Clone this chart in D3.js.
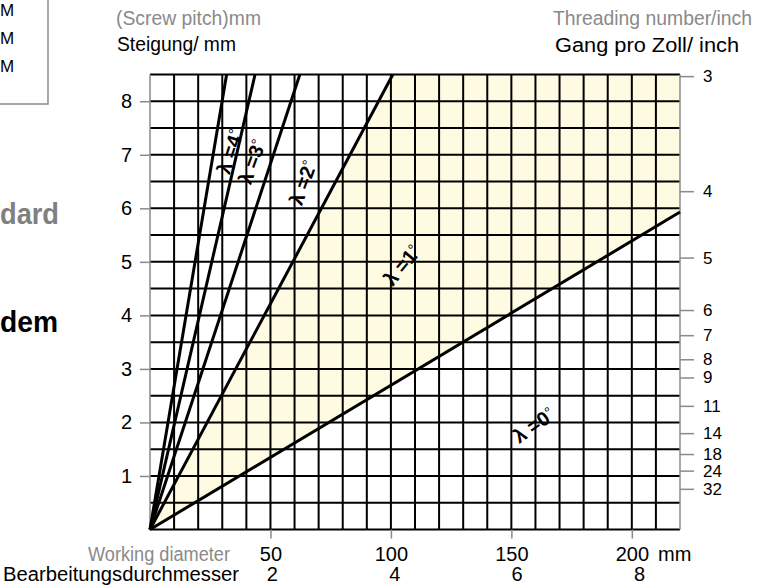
<!DOCTYPE html>
<html>
<head>
<meta charset="utf-8">
<script src="https://cdn.jsdelivr.net/npm/d3@7"></script>
<style>
  html, body { margin: 0; padding: 0; background: #fff; }
  svg { display: block; font-family: "Liberation Sans", Arial, sans-serif; }
</style>
</head>
<body>
<svg id="chart" width="763" height="586"></svg>
<script>
// Lead-angle lines: diameter (mm) and pitch (mm) where each line ends
const lineNames   = ["λ =0", "λ =1", "λ =2", "λ =3", "λ =4"];
const endDiameter = [220, 100.8, 62.2, 43.6, 31.8];
const endPitch    = [5.93, 8.5, 8.5, 8.5, 8.5];

// Label anchor points (diameter mm, pitch mm) and text angles
const labelDiameter = [159.3, 104.6, 63.5, 42.3, 33.2];
const labelPitch    = [1.95, 4.94, 6.48, 6.87, 7.06];
const labelAngle    = [-35, -50, -70, -70, -72];

// Axes
const pitchTicks    = [1, 2, 3, 4, 5, 6, 7, 8];
const diameterTicks = [50, 100, 150, 200];
const inchTicks     = [2, 4, 6, 8];
const threadLabels  = ["3", "4", "5", "6", "7", "8", "9", "11", "14", "18", "24", "32"];
const threadPitch   = [8.47, 6.32, 5.08, 4.1, 3.63, 3.18, 2.84, 2.31, 1.8, 1.41, 1.1, 0.76];

const svg = d3.select("#chart");
const x = d3.scaleLinear().domain([0, 220]).range([150, 680]);
const y = d3.scaleLinear().domain([0, 8.5]).range([529.5, 74.5]);
const grey = "#8a8a8a";
const FS = 20;

// Shaded zone between the λ=0 and λ=1 lines
const zone = [[0, 0], [endDiameter[1], endPitch[1]], [220, 8.5], [endDiameter[0], endPitch[0]]];
svg.append("path")
  .attr("d", d3.line().x(d => x(d[0])).y(d => y(d[1]))(zone) + "Z")
  .attr("fill", "#fefbe2");

// Grid
const g = svg.append("g");
g.selectAll(".vg").data(d3.range(10, 220, 10)).enter().append("line")
  .attr("x1", d => x(d)).attr("x2", d => x(d))
  .attr("y1", y(0)).attr("y2", y(8.5))
  .attr("stroke", "#000").attr("stroke-width", 2);
g.selectAll(".hg").data(d3.range(0.5, 8.5, 0.5)).enter().append("line")
  .attr("y1", d => y(d)).attr("y2", d => y(d))
  .attr("x1", x(0)).attr("x2", x(220))
  .attr("stroke", "#000").attr("stroke-width", 2);
// frame
[0, 8.5].forEach(v => g.append("line")
  .attr("x1", x(0)).attr("x2", x(220)).attr("y1", y(v)).attr("y2", y(v))
  .attr("stroke", "#000").attr("stroke-width", 2));
[0, 220].forEach(v => g.append("line")
  .attr("x1", x(v)).attr("x2", x(v)).attr("y1", y(0)).attr("y2", y(8.5))
  .attr("stroke", grey).attr("stroke-width", 1.5));

// Lead-angle lines
svg.selectAll(".lead").data(lineNames).enter().append("line")
  .attr("x1", x(0)).attr("y1", y(0))
  .attr("x2", (d, i) => x(endDiameter[i])).attr("y2", (d, i) => y(endPitch[i]))
  .attr("stroke", "#000").attr("stroke-width", 3);

// Lead-angle labels
const lbl = svg.selectAll(".lbl").data(lineNames).enter().append("text")
  .attr("transform", (d, i) => `translate(${x(labelDiameter[i])},${y(labelPitch[i])}) rotate(${labelAngle[i]})`)
  .attr("text-anchor", "middle").attr("dy", "0.35em")
  .attr("font-size", 20).attr("font-weight", "bold");
lbl.append("tspan").text(d => d);
lbl.append("tspan").text("°").attr("font-weight", "normal").attr("font-size", 15).attr("dy", -4);

function styleAxis(sel, size) {
  sel.select(".domain").remove();
  sel.selectAll("line").attr("stroke", grey).attr("stroke-width", 1.5);
  sel.selectAll("text").attr("font-size", size || FS).attr("font-family", "Liberation Sans, Arial, sans-serif");
}

// Left axis (pitch, mm)
svg.append("g").attr("transform", `translate(${x(0)},0)`)
  .call(d3.axisLeft(y).tickValues(pitchTicks).tickSize(10).tickPadding(8).tickFormat(d3.format("d")))
  .call(styleAxis);

// Right axis (threads per inch)
svg.append("g").attr("transform", `translate(${x(220)},0)`)
  .call(d3.axisRight(y).tickValues(threadPitch).tickSize(14).tickPadding(9)
    .tickFormat((d, i) => threadLabels[i]))
  .call(styleAxis, 17);

// Bottom axis (mm)
svg.append("g").attr("transform", `translate(0,${y(0)})`)
  .call(d3.axisBottom(x).tickValues(diameterTicks).tickSize(9).tickPadding(8).tickFormat(d3.format("d")))
  .call(styleAxis);

// Inch labels under the mm labels
svg.selectAll(".inch").data(inchTicks).enter().append("text")
  .attr("x", d => x(d * 25.4)).attr("y", 581)
  .attr("text-anchor", "middle").attr("font-size", FS).text(d => d);

// Titles
const t = (txt, px, py, opts = {}) => {
  const el = svg.append("text").attr("x", px).attr("y", py)
    .attr("font-size", opts.size || FS).attr("fill", opts.fill || "#000")
    .attr("font-weight", opts.weight || "normal")
    .attr("text-anchor", opts.anchor || "start").text(txt);
  if (opts.len) el.attr("textLength", opts.len).attr("lengthAdjust", "spacingAndGlyphs");
  return el;
};

t("(Screw pitch)mm", 116, 25, {fill: grey, len: 145});
t("Steigung/ mm", 117, 51, {len: 119});
t("Threading number/inch", 553, 25, {fill: grey, len: 199});
t("Gang pro Zoll/ inch", 555, 52, {len: 184});
t("Working diameter", 88, 561, {fill: grey, len: 142});
t("Bearbeitungsdurchmesser", 3, 581, {len: 236});
t("mm", 658, 561);

// Side notes
t("dard", 0, 224, {size: 29, weight: "bold", fill: "#808080", len: 59});
t("dem", 0, 332, {size: 29, weight: "bold", len: 58});

// Legend box (left)
svg.append("rect").attr("x", -10).attr("y", -10).attr("width", 58).attr("height", 114)
  .attr("fill", "none").attr("stroke", grey).attr("stroke-width", 1.5);
["M", "M", "M"].forEach((m, i) => t(m, 0, 16 + i * 28, {size: 17}));
</script>
</body>
</html>
